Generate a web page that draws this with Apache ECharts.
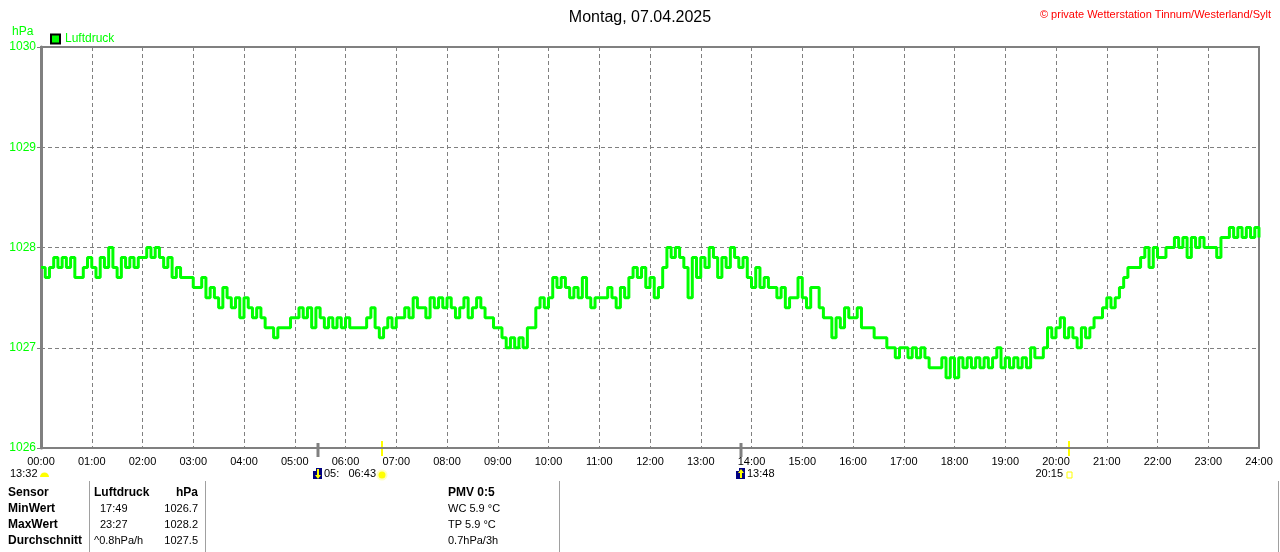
<!DOCTYPE html>
<html>
<head>
<meta charset="utf-8">
<title>Luftdruck 07.04.2025</title>
<script src="https://cdn.jsdelivr.net/npm/echarts@6/dist/echarts.min.js"></script>
<style>
html, body { margin: 0; padding: 0; background: #fff; }
#chart { width: 1280px; height: 552px; }
</style>
</head>
<body>
<div id="chart"></div>
<script>
// Luftdruck in hPa, ein Wert alle 5 Minuten (00:00 .. 24:00)
var stepMinutes = 5;
var pressure = [
    1027.8, 1027.7, 1027.8, 1027.9, 1027.8, 1027.9, 1027.8, 1027.9, 1027.7, 1027.7, 1027.8, 1027.9,
    1027.8, 1027.7, 1027.9, 1027.8, 1028.0, 1027.8, 1027.7, 1027.9, 1027.8, 1027.9, 1027.8, 1027.9,
    1027.9, 1028.0, 1027.9, 1028.0, 1027.9, 1027.8, 1027.9, 1027.7, 1027.8, 1027.7, 1027.7, 1027.7,
    1027.6, 1027.6, 1027.7, 1027.5, 1027.6, 1027.5, 1027.4, 1027.6, 1027.5, 1027.4, 1027.5, 1027.3,
    1027.5, 1027.4, 1027.3, 1027.4, 1027.3, 1027.2, 1027.2, 1027.1, 1027.2, 1027.2, 1027.2, 1027.3,
    1027.3, 1027.4, 1027.3, 1027.4, 1027.2, 1027.4, 1027.3, 1027.2, 1027.3, 1027.2, 1027.3, 1027.2,
    1027.3, 1027.2, 1027.2, 1027.2, 1027.2, 1027.3, 1027.4, 1027.2, 1027.1, 1027.2, 1027.3, 1027.2,
    1027.3, 1027.3, 1027.4, 1027.3, 1027.5, 1027.4, 1027.4, 1027.3, 1027.5, 1027.4, 1027.5, 1027.4,
    1027.5, 1027.4, 1027.3, 1027.4, 1027.5, 1027.3, 1027.4, 1027.5, 1027.4, 1027.3, 1027.3, 1027.2,
    1027.2, 1027.1, 1027.0, 1027.1, 1027.0, 1027.1, 1027.0, 1027.2, 1027.2, 1027.4, 1027.5, 1027.4,
    1027.5, 1027.7, 1027.6, 1027.7, 1027.6, 1027.5, 1027.6, 1027.5, 1027.7, 1027.5, 1027.4, 1027.5,
    1027.5, 1027.5, 1027.6, 1027.5, 1027.4, 1027.6, 1027.5, 1027.7, 1027.8, 1027.7, 1027.8, 1027.6,
    1027.7, 1027.5, 1027.6, 1027.8, 1028.0, 1027.9, 1028.0, 1027.9, 1027.8, 1027.5, 1027.9, 1027.7,
    1027.9, 1027.8, 1028.0, 1027.9, 1027.7, 1027.9, 1027.8, 1028.0, 1027.9, 1027.8, 1027.9, 1027.7,
    1027.6, 1027.8, 1027.6, 1027.7, 1027.6, 1027.6, 1027.5, 1027.6, 1027.4, 1027.5, 1027.5, 1027.7,
    1027.5, 1027.4, 1027.6, 1027.6, 1027.4, 1027.3, 1027.3, 1027.1, 1027.3, 1027.2, 1027.4, 1027.3,
    1027.3, 1027.4, 1027.2, 1027.2, 1027.2, 1027.1, 1027.1, 1027.1, 1027.0, 1027.0, 1026.9, 1027.0,
    1027.0, 1026.9, 1027.0, 1026.9, 1027.0, 1026.9, 1026.8, 1026.8, 1026.8, 1026.9, 1026.7, 1026.9,
    1026.7, 1026.9, 1026.8, 1026.9, 1026.8, 1026.9, 1026.8, 1026.9, 1026.8, 1026.9, 1027.0, 1026.8,
    1026.9, 1026.8, 1026.9, 1026.8, 1026.9, 1026.8, 1027.0, 1026.9, 1026.9, 1027.0, 1027.2, 1027.1,
    1027.2, 1027.3, 1027.1, 1027.2, 1027.1, 1027.0, 1027.2, 1027.1, 1027.2, 1027.3, 1027.3, 1027.4,
    1027.5, 1027.4, 1027.5, 1027.6, 1027.7, 1027.8, 1027.8, 1027.8, 1027.9, 1028.0, 1027.8, 1028.0,
    1027.9, 1027.9, 1028.0, 1028.0, 1028.1, 1028.0, 1028.1, 1027.9, 1028.1, 1028.0, 1028.1, 1028.0,
    1028.0, 1028.0, 1027.9, 1028.1, 1028.1, 1028.2, 1028.1, 1028.2, 1028.1, 1028.2, 1028.1, 1028.2,
    1028.1
];

// Sonne / Mond (Minuten seit 00:00)
var events = [
    { minute: 5 * 60 + 28, label: '05:', kind: 'moon', down: true },
    { minute: 6 * 60 + 43, label: '06:43', kind: 'sunrise' },
    { minute: 13 * 60 + 48, label: '13:48', kind: 'moon', down: false },
    { minute: 20 * 60 + 15, label: '20:15', kind: 'sunset' }
];
var moonText = '13:32';

// Tabelle unten
var tableHead = ['Sensor', 'Luftdruck', 'hPa'];
var tableRows = [
    ['MinWert', '17:49', '1026.7'],
    ['MaxWert', '23:27', '1028.2'],
    ['Durchschnitt', '^0.8hPa/h', '1027.5']
];
var pmvHead = 'PMV 0:5';
var pmvRows = ['WC 5.9 °C', 'TP 5.9 °C', '0.7hPa/3h'];

var FONT = '"Liberation Sans", Arial, sans-serif';
var GREEN = '#00ff00';

var seriesData = pressure.map(function(v, i) { return [i * stepMinutes, v]; });

var chart = echarts.init(document.getElementById('chart'));

chart.setOption({
    backgroundColor: '#ffffff',
    animation: false,
    title: [{
        text: 'Montag, 07.04.2025',
        left: 'center',
        top: 5,
        textStyle: { fontFamily: FONT, fontSize: 16, fontWeight: 'normal', color: '#000' }
    }, {
        text: '© private Wetterstation Tinnum/Westerland/Sylt',
        right: 4,
        top: 4,
        textStyle: { fontFamily: FONT, fontSize: 11, fontWeight: 'normal', color: '#ff0000' }
    }],
    legend: {
        data: ['Luftdruck'],
        left: 45,
        top: 28,
        icon: 'rect',
        itemWidth: 9,
        itemHeight: 9,
        itemGap: 5,
        textStyle: { fontFamily: FONT, fontSize: 12, color: GREEN }
    },
    grid: {
        left: 41, right: 21, top: 47, bottom: 104,
        show: true, borderColor: '#808080', borderWidth: 2,
        backgroundColor: '#ffffff'
    },
    xAxis: {
        type: 'value',
        min: 0, max: 1440, interval: 60,
        axisLine: { show: true, lineStyle: { color: '#808080', width: 2 } },
        axisTick: { show: false },
        axisLabel: {
            margin: 8,
            fontFamily: FONT, fontSize: 11, color: '#000',
            formatter: function(v) {
                var h = Math.round(v / 60);
                return (h < 10 ? '0' : '') + h + ':00';
            }
        },
        splitLine: { show: true, lineStyle: { color: '#808080', type: [4, 3], width: 1 } }
    },
    yAxis: {
        type: 'value',
        min: 1026, max: 1030, interval: 1,
        axisLine: { show: true, lineStyle: { color: '#808080', width: 3 } },
        axisTick: { show: true, length: 4, lineStyle: { color: '#808080' } },
        axisLabel: {
            margin: 5, fontFamily: FONT, fontSize: 12, color: GREEN,
            formatter: function(v) { return String(v); }
        },
        splitLine: { show: true, lineStyle: { color: '#808080', type: [4, 3], width: 1 } }
    },
    series: [{
        name: 'Luftdruck',
        type: 'line',
        step: 'end',
        showSymbol: false,
        symbol: 'none',
        data: seriesData,
        itemStyle: { color: GREEN, borderColor: '#000', borderWidth: 1 },
        lineStyle: { color: GREEN, width: 3 }
    }]
});

// Grafiken unter der Zeitachse und Tabelle
var g = [];
var axisY = chart.convertToPixel({ gridIndex: 0 }, [0, 1026])[1];
var labelY = axisY + 26;

g.push({ type: 'text', left: 12, top: 26, style: { text: 'hPa', fill: GREEN, font: '12px ' + FONT } });

// Mond links
g.push({ type: 'text', x: 10, y: labelY, style: { text: moonText, fill: '#000', font: '11px ' + FONT, verticalAlign: 'middle' } });
g.push({ type: 'sector', shape: { cx: 44.5, cy: labelY + 3, r: 4.5, startAngle: Math.PI, endAngle: Math.PI * 2 }, style: { fill: '#ffff00' } });

events.forEach(function(e) {
    var x = Math.round(chart.convertToPixel({ gridIndex: 0 }, [e.minute, 1026])[0]);
    if (e.kind === 'moon') {
        g.push({ type: 'line', shape: { x1: x, y1: axisY - 5, x2: x, y2: axisY + 9 }, style: { stroke: '#808080', lineWidth: 3 } });
        g.push({ type: 'rect', shape: { x: x - 5, y: labelY - 6, width: 9, height: 11 }, style: { fill: '#000080' } });
        g.push({ type: 'rect', shape: { x: x - 5, y: labelY - 6, width: 3, height: 3 }, style: { fill: '#ffffff' } });
        var ay = e.down ? [labelY - 5, labelY + 3] : [labelY + 4, labelY - 3];
        g.push({ type: 'line', shape: { x1: x, y1: ay[0], x2: x, y2: ay[1] }, style: { stroke: '#ffff00', lineWidth: 2 } });
        g.push({ type: 'polygon', shape: { points: [[x - 3, ay[1] - (e.down ? 2 : -2)], [x + 3, ay[1] - (e.down ? 2 : -2)], [x, ay[1] + (e.down ? 2 : -2)]] }, style: { fill: '#ffff00' } });
        g.push({ type: 'text', x: x + 6, y: labelY, style: { text: e.label, fill: '#000', font: '11px ' + FONT, verticalAlign: 'middle' } });
    } else {
        g.push({ type: 'line', shape: { x1: x, y1: axisY - 7, x2: x, y2: axisY + 8 }, style: { stroke: '#ffff00', lineWidth: 2 } });
        g.push({ type: 'text', x: x - 6, y: labelY, style: { text: e.label, fill: '#000', font: '11px ' + FONT, align: 'right', verticalAlign: 'middle' } });
        if (e.kind === 'sunrise') {
            g.push({ type: 'circle', shape: { cx: x, cy: labelY + 1, r: 5.5 }, style: { fill: '#ffffc0' } });
            g.push({ type: 'circle', shape: { cx: x, cy: labelY + 1, r: 3.5 }, style: { fill: '#ffff00' } });
        } else {
            g.push({ type: 'rect', shape: { x: x - 2, y: labelY - 2, width: 5, height: 6 }, style: { fill: 'none', stroke: '#ffff00', lineWidth: 1 } });
        }
    }
});

// Tabelle
[89, 205, 559, 1278].forEach(function(x) {
    g.push({ type: 'line', shape: { x1: x + 0.5, y1: 481, x2: x + 0.5, y2: 552 }, style: { stroke: '#a0a0a0', lineWidth: 1 } });
});
var rowY = [493, 509, 525, 541];
var bold = 'bold 12px ' + FONT;
var norm = '11px ' + FONT;
g.push({ type: 'text', x: 8, y: rowY[0], style: { text: tableHead[0], font: bold, fill: '#000', verticalAlign: 'middle' } });
g.push({ type: 'text', x: 94, y: rowY[0], style: { text: tableHead[1], font: bold, fill: '#000', verticalAlign: 'middle' } });
g.push({ type: 'text', x: 198, y: rowY[0], style: { text: tableHead[2], font: bold, fill: '#000', align: 'right', verticalAlign: 'middle' } });
g.push({ type: 'text', x: 448, y: rowY[0], style: { text: pmvHead, font: bold, fill: '#000', verticalAlign: 'middle' } });
tableRows.forEach(function(r, i) {
    var y = rowY[i + 1];
    g.push({ type: 'text', x: 8, y: y, style: { text: r[0], font: bold, fill: '#000', verticalAlign: 'middle' } });
    g.push({ type: 'text', x: i < 2 ? 100 : 94, y: y, style: { text: r[1], font: norm, fill: '#000', verticalAlign: 'middle' } });
    g.push({ type: 'text', x: 198, y: y, style: { text: r[2], font: norm, fill: '#000', align: 'right', verticalAlign: 'middle' } });
    g.push({ type: 'text', x: 448, y: y, style: { text: pmvRows[i], font: norm, fill: '#000', verticalAlign: 'middle' } });
});

chart.setOption({ graphic: g });
</script>
</body>
</html>
